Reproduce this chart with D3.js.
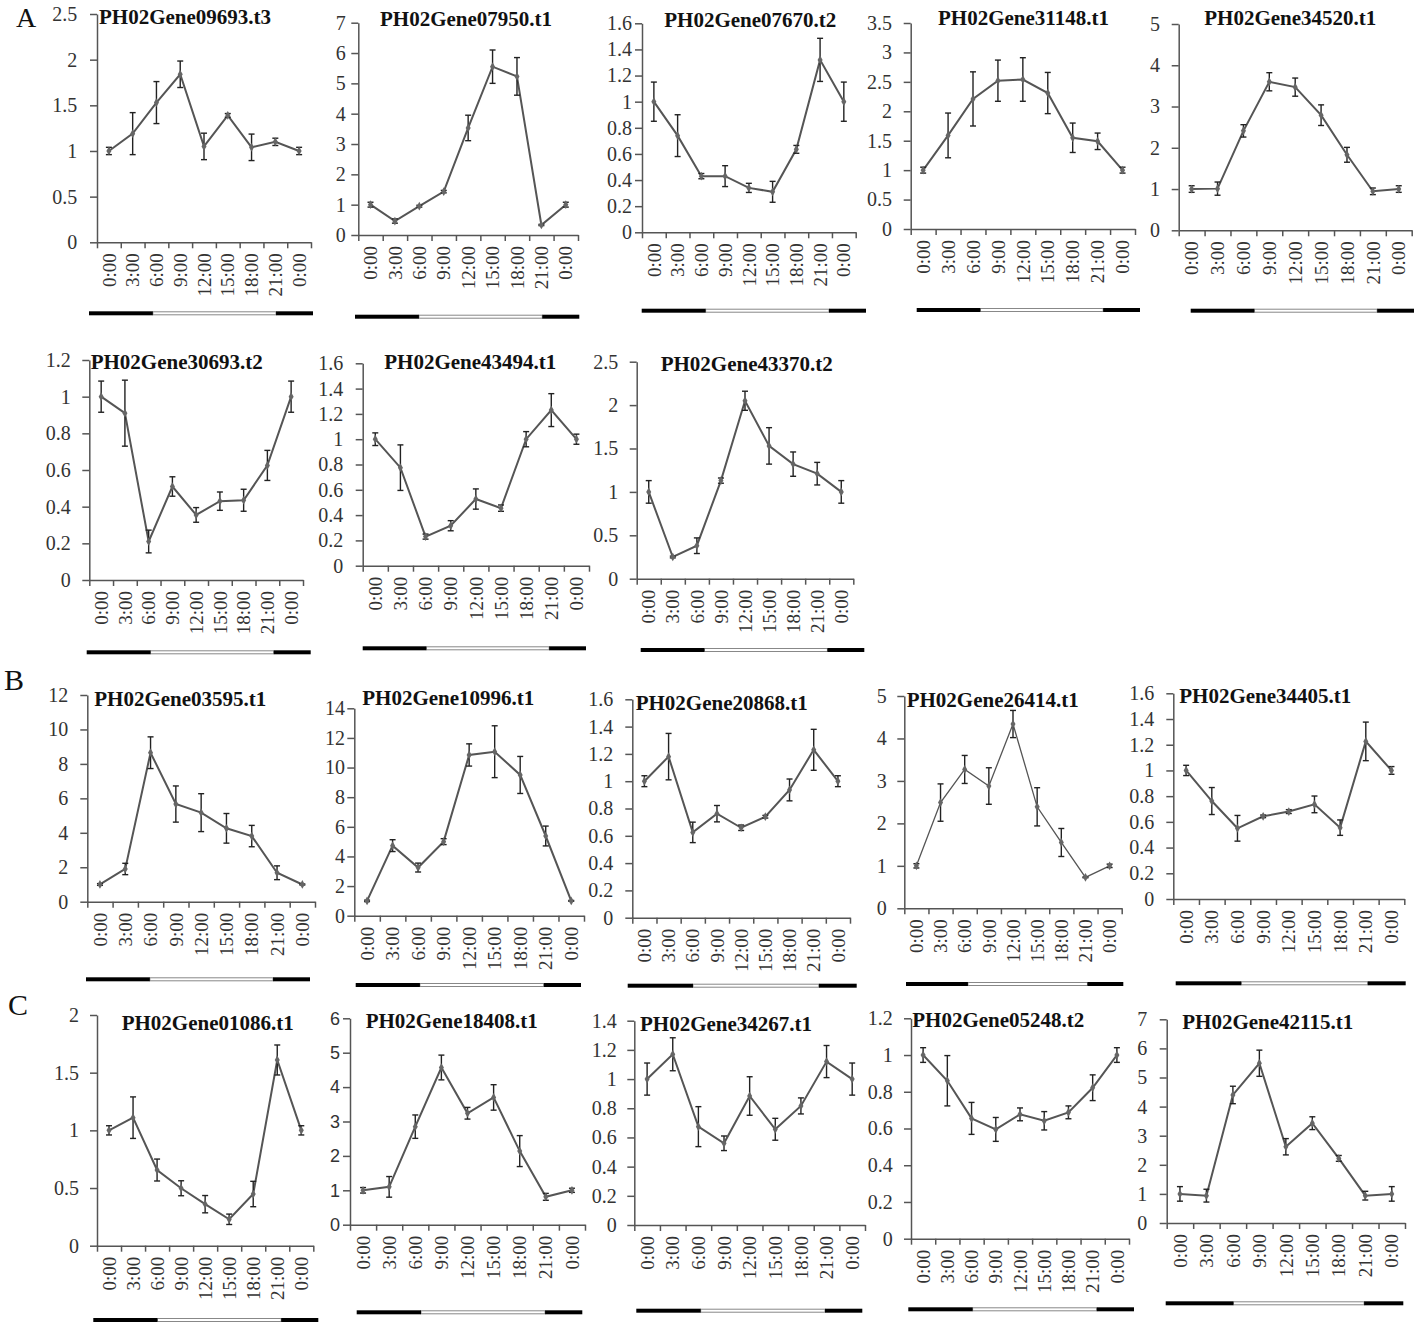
<!DOCTYPE html>
<html><head><meta charset="utf-8">
<script src="https://cdn.jsdelivr.net/npm/d3@7"></script>
<style>body{margin:0;background:#fff}</style>
</head><body>
<svg id="chart" width="1418" height="1325"></svg>
<script>
// ---------- DATA ----------
const timeLabels = ["0:00","3:00","6:00","9:00","12:00","15:00","18:00","21:00","0:00"];
const panelLetters = ["A","B","C"];
const geneNames = [
  "PH02Gene09693.t3","PH02Gene07950.t1","PH02Gene07670.t2","PH02Gene31148.t1","PH02Gene34520.t1",
  "PH02Gene30693.t2","PH02Gene43494.t1","PH02Gene43370.t2",
  "PH02Gene03595.t1","PH02Gene10996.t1","PH02Gene20868.t1","PH02Gene26414.t1","PH02Gene34405.t1",
  "PH02Gene01086.t1","PH02Gene18408.t1","PH02Gene34267.t1","PH02Gene05248.t2","PH02Gene42115.t1"
];
const yMax  = [2.5, 7, 1.6, 3.5, 5, 1.2, 1.6, 2.5, 12, 14, 1.6, 5, 1.6, 2, 6, 1.4, 1.2, 7];
const yStep = [0.5, 1, 0.2, 0.5, 1, 0.2, 0.2, 0.5, 2, 2, 0.2, 1, 0.2, 0.5, 1, 0.2, 0.2, 1];
const meanValues = [
  [1.0, 1.19, 1.53, 1.84, 1.05, 1.39, 1.04, 1.10, 1.0],
  [1.0, 0.46, 0.95, 1.43, 3.53, 5.55, 5.23, 0.33, 1.0],
  [1.0, 0.74, 0.43, 0.43, 0.34, 0.31, 0.635, 1.32, 1.0],
  [1.0, 1.59, 2.21, 2.52, 2.54, 2.31, 1.55, 1.49, 1.0],
  [1.0, 1.01, 2.41, 3.6, 3.47, 2.79, 1.83, 0.945, 1.0],
  [1.0, 0.91, 0.21, 0.51, 0.355, 0.43, 0.435, 0.625, 1.0],
  [1.0, 0.775, 0.23, 0.316, 0.527, 0.455, 1.0, 1.23, 1.0],
  [1.0, 0.25, 0.38, 1.13, 2.05, 1.53, 1.32, 1.21, 1.0],
  [1.0, 1.9, 8.65, 5.67, 5.17, 4.26, 3.81, 1.68, 1.0],
  [1.0, 4.73, 3.25, 5.0, 10.85, 11.07, 9.5, 5.38, 1.0],
  [1.0, 1.18, 0.625, 0.762, 0.659, 0.74, 0.936, 1.23, 1.0],
  [1.0, 2.49, 3.27, 2.88, 4.34, 2.39, 1.55, 0.73, 1.0],
  [1.0, 0.762, 0.55, 0.643, 0.68, 0.736, 0.555, 1.226, 1.0],
  [1.0, 1.11, 0.656, 0.498, 0.36, 0.229, 0.448, 1.61, 1.0],
  [1.0, 1.1, 2.85, 4.57, 3.24, 3.7, 2.14, 0.81, 1.0],
  [1.0, 1.17, 0.674, 0.56, 0.884, 0.656, 0.816, 1.12, 1.0],
  [1.0, 0.86, 0.655, 0.595, 0.677, 0.642, 0.688, 0.822, 1.0],
  [1.0, 0.94, 4.4, 5.49, 2.62, 3.43, 2.22, 0.94, 1.0]
];
const errorValues = [
  [0.04, 0.23, 0.23, 0.145, 0.145, 0.02, 0.145, 0.04, 0.04],
  [0.08, 0.07, 0.03, 0.04, 0.42, 0.55, 0.62, 0.02, 0.08],
  [0.15, 0.16, 0.02, 0.08, 0.035, 0.08, 0.03, 0.165, 0.15],
  [0.05, 0.38, 0.46, 0.35, 0.37, 0.35, 0.25, 0.14, 0.05],
  [0.08, 0.16, 0.15, 0.22, 0.22, 0.25, 0.18, 0.08, 0.08],
  [0.085, 0.18, 0.062, 0.053, 0.04, 0.05, 0.06, 0.082, 0.085],
  [0.05, 0.18, 0.02, 0.04, 0.08, 0.025, 0.06, 0.13, 0.04],
  [0.13, 0.01, 0.09, 0.03, 0.11, 0.21, 0.14, 0.13, 0.13],
  [0.05, 0.33, 0.92, 1.05, 1.1, 0.86, 0.62, 0.4, 0.03],
  [0.05, 0.4, 0.3, 0.2, 0.75, 1.75, 1.25, 0.67, 0.03],
  [0.04, 0.17, 0.075, 0.06, 0.02, 0.01, 0.08, 0.15, 0.04],
  [0.05, 0.44, 0.33, 0.43, 0.32, 0.45, 0.33, 0.01, 0.04],
  [0.04, 0.105, 0.1, 0.01, 0.015, 0.065, 0.06, 0.15, 0.03],
  [0.04, 0.18, 0.095, 0.065, 0.075, 0.045, 0.11, 0.13, 0.04],
  [0.08, 0.3, 0.34, 0.36, 0.17, 0.37, 0.45, 0.1, 0.06],
  [0.11, 0.113, 0.137, 0.05, 0.132, 0.075, 0.055, 0.11, 0.11],
  [0.04, 0.137, 0.087, 0.065, 0.035, 0.05, 0.035, 0.07, 0.04],
  [0.25, 0.22, 0.3, 0.45, 0.28, 0.22, 0.1, 0.15, 0.25]
];

// ---------- LAYOUT (positions only) ----------
const layouts = [
  {ax:97,   xe:311,   y0:242.3,  yt:14,     tx:99,    ty:24,     by:313.3,  bx0:89,    bx1:313,    gap:19.7},
  {ax:358.3,xe:578,   y0:235,    yt:22.7,   tx:380,   ty:26,     by:316.7,  bx0:355,   bx1:579.3,  gap:12.6},
  {ax:642,  xe:855.7, y0:232.3,  yt:23.3,   tx:664.3, ty:27.3,   by:310.7,  bx0:641.7, bx1:866,    gap:10},
  {ax:910.7,xe:1135,  y0:229,    yt:23,     tx:938,   ty:25,     by:310,    bx0:916.7, bx1:1140,   gap:18.7},
  {ax:1178.7,xe:1411.7,y0:230.3, yt:24,     tx:1204.3,ty:25,     by:310.7,  bx0:1190.7,bx1:1414,   gap:18.7},
  {ax:89.3, xe:303,   y0:580,    yt:360,    tx:90.7,  ty:369.3,  by:652.3,  bx0:86.7,  bx1:310.7,  gap:18.6},
  {ax:362.7,xe:589,   y0:565.7,  yt:363.3,  tx:384.3, ty:369.3,  by:648.3,  bx0:362.7, bx1:586,    gap:19.4},
  {ax:636.7,xe:853.3, y0:578.7,  yt:361.7,  tx:660.7, ty:370.7,  by:650,    bx0:640.7, bx1:864.3,  gap:18.4},
  {ax:87.3, xe:315,   y0:901.7,  yt:695,    tx:94.3,  ty:705.7,  by:979.3,  bx0:86,    bx1:310,    gap:19},
  {ax:354.3,xe:584,   y0:915.7,  yt:708.3,  tx:362.3, ty:705,    by:985,    bx0:355.7, bx1:581,    gap:9.3},
  {ax:632.3,xe:850,   y0:917.7,  yt:699.3,  tx:635.7, ty:710,    by:985.7,  bx0:627.7, bx1:856.7,  gap:19},
  {ax:904.3,xe:1121.7,y0:908.3,  yt:696,    tx:906.7, ty:706.7,  by:984,    bx0:906,   bx1:1123.3, gap:17.6, lw:1.3},
  {ax:1173.3,xe:1404.3,y0:899,   yt:693.3,  tx:1179.3,ty:703.3,  by:983.3,  bx0:1175.7,bx1:1405.7, gap:19},
  {ax:97,   xe:313.3, y0:1245.7, yt:1015,   tx:121.7, ty:1030,   by:1320,   bx0:93.3,  bx1:318.3,  gap:18},
  {ax:350,  xe:585,   y0:1224.7, yt:1018.3, tx:365.7, ty:1028.3, by:1312.3, bx0:356.7, bx1:582.3,  gap:10, sans:true},
  {ax:634.3,xe:865,   y0:1225,   yt:1020.7, tx:640,   ty:1030.7, by:1310.7, bx0:636.3, bx1:862.3,  gap:17.6},
  {ax:911,  xe:1129,  y0:1238.7, yt:1018.3, tx:912.3, ty:1026.7, by:1309.3, bx0:908.3, bx1:1134,   gap:18.3},
  {ax:1166.7,xe:1405, y0:1223,   yt:1019.3, tx:1182.3,ty:1029.3, by:1303.3, bx0:1165.7,bx1:1403.3, gap:19.4}
];
const letterPos = [{x:16,y:27,s:28},{x:4,y:690,s:30},{x:8,y:1015,s:30}];

// ---------- DRAW ----------
const SERIF = "'Liberation Serif','Times New Roman',serif";
const SANS = "'Liberation Sans',Arial,sans-serif";
const svg = d3.select("#chart");
svg.append("rect").attr("width",1418).attr("height",1325).attr("fill","#fff");

panelLetters.forEach((l,k)=>{
  svg.append("text").attr("x",letterPos[k].x).attr("y",letterPos[k].y)
    .attr("font-family",SERIF).attr("font-size",letterPos[k].s).attr("fill","#111").text(l);
});

geneNames.forEach((name,i)=>{
  const L = layouts[i];
  const g = svg.append("g");
  const idx = d3.range(timeLabels.length);
  const x = d3.scaleBand().domain(idx).range([L.ax, L.xe]).padding(0);
  const xb = d3.scaleLinear().domain([0, timeLabels.length]).range([L.ax, L.xe]);
  const y = d3.scaleLinear().domain([0, yMax[i]]).range([L.y0, L.yt]);
  const ticks = d3.range(0, yMax[i] + yStep[i]/2, yStep[i]).map(v=>+v.toFixed(2));
  const cx = j => x(j) + x.bandwidth()/2;

  // y axis
  const ya = g.append("g").attr("transform",`translate(${L.ax},0)`)
    .call(d3.axisLeft(y).tickValues(ticks).tickSize(7).tickSizeOuter(0)
      .tickPadding(L.gap - 7).tickFormat(d=>String(d)));
  ya.selectAll("text").attr("font-family", L.sans ? SANS : SERIF)
    .attr("font-size", L.sans ? 18 : 20).attr("fill","#333");

  // x axis (ticks on category boundaries)
  g.append("g").attr("transform",`translate(0,${L.y0})`)
    .call(d3.axisBottom(xb).tickValues(d3.range(timeLabels.length+1)).tickSize(6).tickSizeOuter(0).tickFormat(""));
  g.selectAll(".domain, .tick line").attr("stroke","#555").attr("stroke-width",1.5);

  // x labels rotated
  g.append("g").selectAll("text").data(timeLabels).join("text")
    .attr("transform",(d,j)=>`translate(${cx(j)},${L.y0+11}) rotate(-90)`)
    .attr("text-anchor","end").attr("dy","0.35em")
    .attr("font-family",SERIF).attr("font-size",19).attr("fill","#333")
    .text(d=>d);

  // title
  g.append("text").attr("x",L.tx).attr("y",L.ty)
    .attr("font-family",SERIF).attr("font-weight","bold").attr("font-size",21)
    .attr("fill","#111").text(name);

  const means = meanValues[i], errs = errorValues[i];

  // line
  g.append("path").datum(means)
    .attr("d", d3.line().x((d,j)=>cx(j)).y(d=>y(d)))
    .attr("fill","none").attr("stroke","#555").attr("stroke-width", L.lw || 2);

  // error bars
  const eb = g.append("g").attr("stroke","#222").attr("stroke-width",1.4);
  means.forEach((m,j)=>{
    const e = errs[j];
    const yt = y(m+e), yb = y(m-e), xx = cx(j);
    eb.append("line").attr("x1",xx).attr("x2",xx).attr("y1",yt).attr("y2",yb);
    eb.append("line").attr("x1",xx-3).attr("x2",xx+3).attr("y1",yt).attr("y2",yt);
    eb.append("line").attr("x1",xx-3).attr("x2",xx+3).attr("y1",yb).attr("y2",yb);
  });

  // markers
  g.append("g").selectAll("path").data(means).join("path")
    .attr("transform",(d,j)=>`translate(${cx(j)},${y(d)})`)
    .attr("d", d3.symbol(d3.symbolDiamond, 22)())
    .attr("fill","#666");

  // day/night bar
  const w = L.bx1 - L.bx0;
  const s1 = L.bx0 + 0.285*w, s2 = L.bx0 + 0.835*w;
  g.append("rect").attr("x",s1).attr("y",L.by-1.5).attr("width",s2-s1).attr("height",3)
    .attr("fill","#fff").attr("stroke","#888").attr("stroke-width",1);
  g.append("rect").attr("x",L.bx0).attr("y",L.by-2).attr("width",s1-L.bx0).attr("height",4).attr("fill","#000");
  g.append("rect").attr("x",s2).attr("y",L.by-2).attr("width",L.bx1-s2).attr("height",4).attr("fill","#000");
});
</script>
</body></html>
